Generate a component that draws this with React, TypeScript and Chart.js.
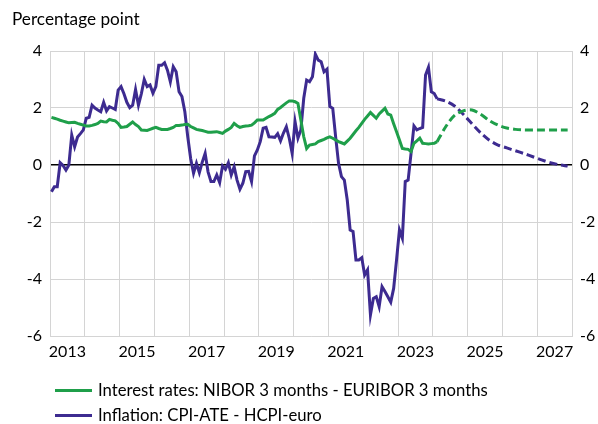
import React, { useEffect, useRef } from 'react';
import { Chart, registerables } from 'chart.js';

Chart.register(...registerables);

// ---- Data (monthly from January 2013; forecasts quarterly) ----
const yearLabels = ['2013', '2015', '2017', '2019', '2021', '2023', '2025', '2027'];
const firstYear = 2013;
const monthsShown = 180; // 2013-2027

const interestActual = [
  1.67, 1.64, 1.61, 1.57, 1.54, 1.51, 1.48, 1.49, 1.50, 1.46, 1.43, 1.40,
  1.37, 1.37, 1.39, 1.42, 1.46, 1.54, 1.52, 1.51, 1.60, 1.57, 1.55, 1.46,
  1.32, 1.33, 1.35, 1.43, 1.51, 1.42, 1.35, 1.23, 1.22, 1.21, 1.25, 1.29,
  1.32, 1.28, 1.25, 1.25, 1.25, 1.28, 1.32, 1.39, 1.39, 1.40, 1.42, 1.43,
  1.35, 1.30, 1.25, 1.23, 1.21, 1.18, 1.15, 1.15, 1.16, 1.17, 1.14, 1.11,
  1.19, 1.25, 1.32, 1.46, 1.38, 1.32, 1.35, 1.37, 1.38, 1.40, 1.48, 1.58,
  1.58, 1.58, 1.64, 1.70, 1.75, 1.81, 1.95, 2.02, 2.10, 2.18, 2.25, 2.25,
  2.22, 2.16, 1.58, 0.99, 0.58, 0.70, 0.72, 0.74, 0.82, 0.86, 0.90, 0.95,
  0.99, 0.94, 0.88, 0.82, 0.78, 0.74, 0.84, 0.94, 1.07, 1.20, 1.32, 1.46,
  1.60, 1.72, 1.84, 1.74, 1.64, 1.79, 1.89, 1.99, 1.79, 1.75, 1.45, 1.17,
  0.88, 0.58, 0.56, 0.55, 0.47, 0.76, 0.85, 0.94, 0.76, 0.75, 0.74, 0.75,
  0.76, 0.82,
];

const inflationActual = [
  -0.94, -0.76, -0.76, 0.08, -0.02, -0.18, 0.0, 1.05, 0.64, 0.98, 1.1, 1.23,
  1.64, 1.67, 2.1, 2.0, 1.93, 1.87, 2.2, 1.9, 2.05, 2.0, 1.95, 2.63,
  2.75, 2.5, 2.2, 2.01, 2.1, 2.65, 2.1, 2.5, 3.0, 2.75, 2.81, 2.52,
  2.75, 3.5, 3.5, 3.59, 3.33, 2.92, 3.45, 3.27, 2.57, 2.4, 1.87, 0.99,
  0.23, -0.29, 0.06, -0.27, 0.1, 0.41, -0.24, -0.58, -0.58, -0.35, -0.62, -0.03,
  -0.15, 0.08, -0.35, -0.06, -0.53, -0.85, -0.64, -0.23, -0.22, -0.58, 0.32, 0.53,
  0.82, 1.29, 1.32, 0.99, 0.98, 0.97, 1.1, 0.85, 1.12, 1.34, 0.94, 0.41,
  1.52, 0.94, 1.23, 2.34, 2.98, 2.92, 3.1, 3.89, 3.68, 3.62, 3.27, 3.36,
  2.05, 1.99, 0.99, 0.06, -0.41, -0.53, -1.23, -2.28, -2.33, -3.33, -3.33, -3.25,
  -3.86, -3.68, -5.26, -4.68, -4.62, -4.97, -4.27, -4.44, -4.62, -4.81, -4.33, -3.33,
  -2.28, -2.57, -0.58, -0.53, 0.41, 1.37, 1.23, 1.28, 1.32, 3.16, 3.43, 2.57,
  2.51, 2.32,
];

const forecastStartMonth = 133; // Feb 2024
const forecastStepMonths = 3;
const interestForecast = [
  0.82, 1.35, 1.74, 1.90, 1.93, 1.78, 1.56, 1.40, 1.30, 1.25, 1.23, 1.23,
  1.23, 1.23, 1.23, 1.23,
];
const inflationForecast = [
  2.32, 2.24, 2.07, 1.78, 1.45, 1.13, 0.87, 0.70, 0.60, 0.50, 0.40, 0.29,
  0.18, 0.08, 0.01, -0.04,
];

const seriesNames = [
  'Interest rates: NIBOR 3 months - EURIBOR 3 months',
  'Inflation: CPI-ATE - HCPI-euro',
];
const yAxisTitle = 'Percentage point';

const GREEN = '#1f9f4a';
const PURPLE = '#3d2b90';
const GRID = '#d4d4d4';
const FONT = 'Lato, "Open Sans", sans-serif';

function toPoints(values: number[], start: number, step: number) {
  return values.map((v, i) => ({ x: start + i * step + 0.5, y: v }));
}

export default function App() {
  const canvasRef = useRef<HTMLCanvasElement | null>(null);

  useEffect(() => {
    const canvas = canvasRef.current;
    if (!canvas) return;
    const tickFont = { family: FONT, size: 16 };
    const chart = new Chart(canvas, {
      type: 'line',
      data: {
        datasets: [
          {
            label: seriesNames[0],
            data: toPoints(interestActual, 0, 1),
            borderColor: GREEN,
            borderWidth: 3,
            pointRadius: 0,
            tension: 0,
          },
          {
            label: seriesNames[0] + ' (forecast)',
            data: toPoints(interestForecast, forecastStartMonth, forecastStepMonths),
            borderColor: GREEN,
            borderWidth: 3,
            borderDash: [8, 4],
            pointRadius: 0,
            tension: 0.3,
          },
          {
            label: seriesNames[1],
            data: toPoints(inflationActual, 0, 1),
            borderColor: PURPLE,
            borderWidth: 3,
            pointRadius: 0,
            tension: 0,
          },
          {
            label: seriesNames[1] + ' (forecast)',
            data: toPoints(inflationForecast, forecastStartMonth, forecastStepMonths),
            borderColor: PURPLE,
            borderWidth: 3,
            borderDash: [8, 4],
            pointRadius: 0,
            tension: 0.3,
          },
        ],
      },
      options: {
        responsive: false,
        animation: false,
        devicePixelRatio: 1,
        layout: { padding: { top: 51, left: 0, right: 0, bottom: 0 } },
        plugins: { legend: { display: false }, tooltip: { enabled: false }, title: { display: false } },
        scales: {
          x: {
            type: 'linear',
            min: 0,
            max: monthsShown,
            afterBuildTicks: (scale: any) => {
              const t = [];
              for (let v = 0; v <= monthsShown; v += 6) t.push({ value: v });
              scale.ticks = t;
            },
            afterFit: (scale: any) => {
              scale.height = 88;
            },
            grid: {
              drawTicks: false,
              color: (ctx: any) => (ctx.tick && ctx.tick.value % 12 === 0 ? GRID : 'rgba(0,0,0,0)'),
              lineWidth: 1,
            },
            border: { display: true, color: GRID, width: 1 },
            ticks: {
              autoSkip: false,
              maxRotation: 0,
              minRotation: 0,
              padding: 6,
              color: '#000',
              font: tickFont,
              callback: (value: any) => {
                const v = Number(value);
                if (v % 24 !== 6) return '';
                const label = yearLabels[(v - 6) / 24];
                return label !== undefined ? label : String(firstYear + (v - 6) / 12);
              },
            },
          },
          y: {
            position: 'left',
            min: -6,
            max: 4,
            afterFit: (scale: any) => {
              scale.width = 50;
            },
            grid: {
              drawTicks: false,
              color: (ctx: any) => (ctx.tick && ctx.tick.value === 0 ? '#000' : GRID),
              lineWidth: (ctx: any) => (ctx.tick && ctx.tick.value === 0 ? 1.5 : 1),
            },
            border: { display: true, color: GRID, width: 1 },
            ticks: { stepSize: 2, padding: 8, color: '#000', font: tickFont },
          },
          y2: {
            position: 'right',
            min: -6,
            max: 4,
            afterFit: (scale: any) => {
              scale.width = 26;
            },
            grid: { display: false, drawTicks: false },
            border: { display: true, color: GRID, width: 1 },
            ticks: { stepSize: 2, padding: 8, color: '#000', font: tickFont },
          },
        },
      },
    } as any);
    return () => chart.destroy();
  }, []);

  const legendRow = (color: string, text: string, top: number) => (
    <div
      style={{
        position: 'absolute',
        left: 55,
        top,
        height: 24,
        display: 'flex',
        alignItems: 'center',
        fontFamily: FONT,
        fontSize: 16.7,
        color: '#000',
        whiteSpace: 'nowrap',
      }}
    >
      <span style={{ display: 'inline-block', width: 37, height: 3, background: color, marginRight: 6 }} />
      <span>{text}</span>
    </div>
  );

  return (
    <div
      style={{
        position: 'fixed',
        left: 0,
        top: 0,
        width: 598,
        height: 424,
        background: '#fff',
        overflow: 'hidden',
      }}
    >
      <canvas ref={canvasRef} width={598} height={424} style={{ position: 'absolute', left: 0, top: 0, width: 598, height: 424 }} />
      <div
        style={{
          position: 'absolute',
          left: 12,
          top: 9,
          fontFamily: FONT,
          fontSize: 17.2,
          lineHeight: '20px',
          color: '#000',
          whiteSpace: 'nowrap',
        }}
      >
        {yAxisTitle}
      </div>
      {legendRow(GREEN, seriesNames[0], 378)}
      {legendRow(PURPLE, seriesNames[1], 403)}
    </div>
  );
}
